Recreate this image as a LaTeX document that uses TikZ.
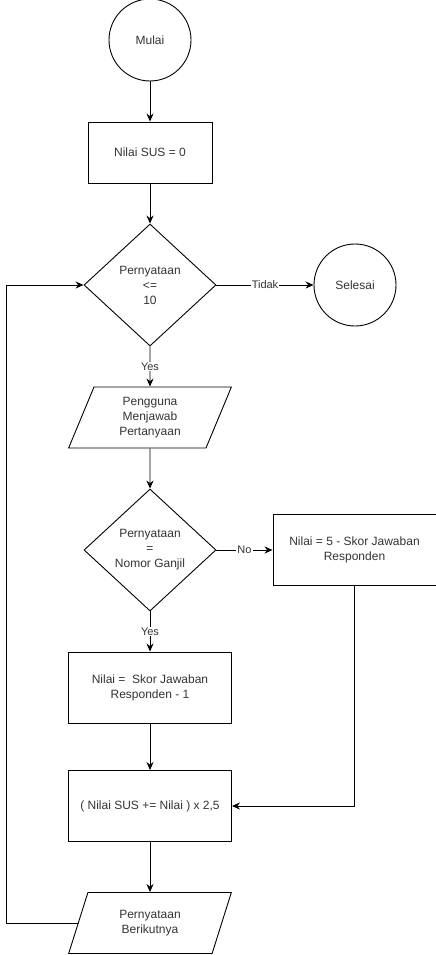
\documentclass[tikz,border=0pt]{standalone}
\usepackage{fontspec}
\setmainfont{Liberation Sans}
\usepackage{tikz}
\usetikzlibrary{shapes.geometric,arrows.meta}

\begin{document}
\begin{tikzpicture}[x=1pt, y=1pt, node distance=132.5pt,
    every node/.style={font=\fontsize{12}{15}\selectfont, text=black!80, align=center},
    term/.style={circle, draw, line width=0.9pt, minimum size=82pt, inner sep=0pt},
    proc/.style={rectangle, draw, line width=0.9pt, minimum width=163pt, minimum height=71pt},
    decision/.style={diamond, draw, line width=0.9pt, minimum width=132pt, minimum height=122pt, inner sep=0pt},
    io/.style={trapezium, trapezium left angle=72, trapezium right angle=108, trapezium stretches=true, draw, line width=0.9pt, minimum width=163pt, minimum height=61pt},
    lbl/.style={fill=white, font=\fontsize{11}{13}\selectfont, inner sep=1pt},
    flow/.style={-{Stealth[length=8pt,width=7pt]}, line width=0.9pt}]
    \useasboundingbox (0,0) rectangle (436,-955);

    \node[term] (mulai) at (150,-40) {Mulai};
    \node[proc, below of=mulai, yshift=20pt, minimum width=124pt, minimum height=61pt] (sus) {Nilai SUS = 0};
    \node[decision, below of=sus] (cek) {Pernyataan\\<=\\10};
    \node[term, right of=cek, xshift=72.5pt] (selesai) {Selesai};
    \node[io, below of=cek] (jawab) {Pengguna\\Menjawab\\Pertanyaan};
    \node[decision, below of=jawab] (ganjil) {Pernyataan\\=\\Nomor Ganjil};
    \node[proc, right of=ganjil, xshift=72pt] (genap) {Nilai = 5 - Skor Jawaban\\Responden};
    \node[proc, below of=ganjil, yshift=-5pt] (ganjilnilai) {Nilai =\ \ Skor Jawaban\\Responden - 1};
    \node[proc, below of=ganjilnilai, yshift=14pt] (total) {( Nilai SUS += Nilai ) x 2,5};
    \node[io, below of=total, yshift=15.5pt] (lanjut) {Pernyataan\\Berikutnya};

    \draw[flow] (mulai) -- (sus);
    \draw[flow] (sus) -- (cek);
    \draw[flow] (cek) -- node[lbl] {Tidak} (selesai);
    \draw[flow] (cek) -- node[lbl] {Yes} (jawab);
    \draw[flow] (jawab) -- (ganjil);
    \draw[flow] (ganjil) -- node[lbl] {No} (genap);
    \draw[flow] (ganjil) -- node[lbl] {Yes} (ganjilnilai);
    \draw[flow] (ganjilnilai) -- (total);
    \draw[flow] (genap.south) |- (total.east);
    \draw[flow] (total) -- (lanjut);
    \draw[flow] (lanjut.west) -| ([xshift=-77pt]cek.west) -- (cek.west);
\end{tikzpicture}
\end{document}
